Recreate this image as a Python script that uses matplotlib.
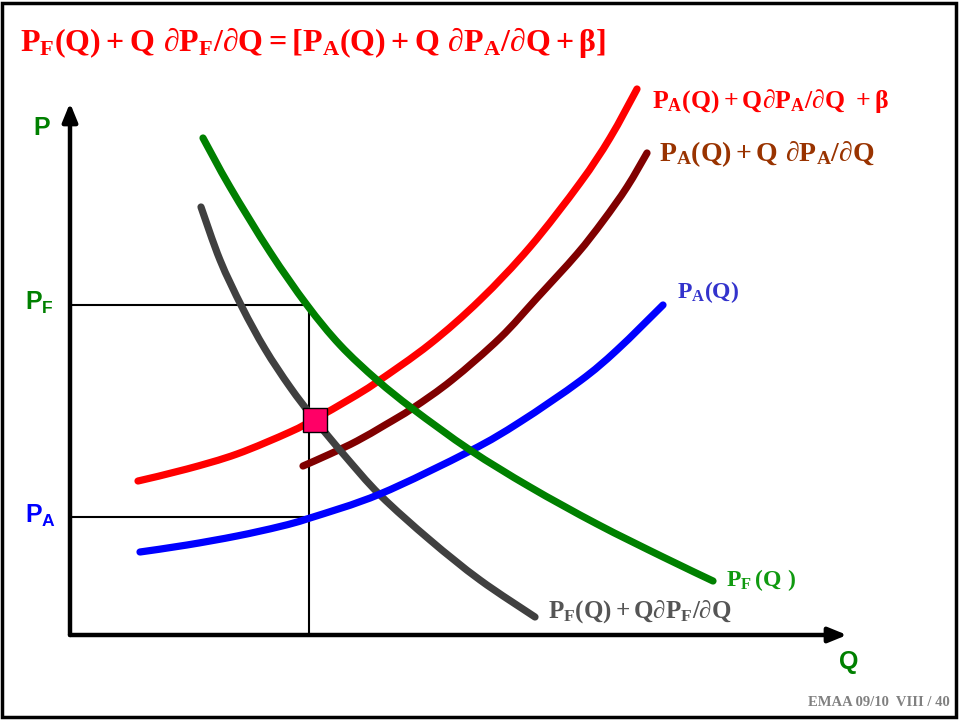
import matplotlib
matplotlib.use("Agg")
import matplotlib.pyplot as plt
import numpy as np
from matplotlib.patches import Rectangle, PathPatch
from matplotlib.path import Path

plt.rcParams['mathtext.fontset'] = 'custom'
plt.rcParams['mathtext.rm'] = 'Liberation Serif:bold'
plt.rcParams['mathtext.it'] = 'Liberation Serif:bold'
plt.rcParams['mathtext.bf'] = 'Liberation Serif:bold'
plt.rcParams['mathtext.sf'] = 'Liberation Sans:bold'

W, H = 959, 720

# curves (Q to the right of the origin, P above it)
red_q = [68, 117, 167, 220, 245, 280, 307, 360, 410, 460, 510, 540, 567]
red_p = [154, 166, 181, 203, 216, 236, 253, 291, 335, 388, 452, 497, 546]

brown_q = [233, 260, 287, 315, 343, 382, 430, 467, 507, 533, 557, 577]
brown_p = [169, 181, 194, 210, 227, 255, 297, 337, 381, 414, 448, 482]

green_q = [133, 160, 200, 237, 270, 307, 343, 400, 460, 527, 593, 643]
green_p = [497, 448, 383, 330, 290, 255, 226, 185, 148, 111, 78, 54]

grey_q = [131, 150, 172, 195, 220, 245, 275, 310, 360, 410, 465]
grey_p = [428, 375, 328, 286, 248, 215, 179, 140, 95, 55, 18]

blue_q = [70, 117, 167, 210, 240, 310, 400, 450, 510, 547, 593]
blue_p = [83, 90, 99, 108.5, 117, 141, 184, 213, 254, 285, 330]

q_star = 239
pf_star = 330
pa_star = 118
eq_point = (245, 215)
q_max, p_max = 777, 532


def smooth_path(qs, ps):
    """Catmull-Rom through the read points, drawn as cubic beziers."""
    pts = np.column_stack([qs, ps]).astype(float)
    n = len(pts)
    verts = [pts[0]]
    codes = [Path.MOVETO]
    for i in range(n - 1):
        p0 = pts[max(i - 1, 0)]
        p1 = pts[i]
        p2 = pts[i + 1]
        p3 = pts[min(i + 2, n - 1)]
        verts += [p1 + (p2 - p0) / 6, p2 - (p3 - p1) / 6, p2]
        codes += [Path.CURVE4] * 3
    return Path(verts, codes)


fig = plt.figure(figsize=(W / 100, H / 100), dpi=100)
ax = fig.add_axes([0, 0, 1, 1])
ax.set_xlim(-70, W - 70)
ax.set_ylim(635 - H, 635)
ax.axis('off')

# frame of the slide
fig.patches.append(Rectangle((1.5 / W, 3 / H), 954 / W, 714 / H, transform=fig.transFigure,
                             fill=False, ec='black', lw=2.5))

# axes with arrows
arrow = dict(arrowstyle='-|>,head_length=1.1,head_width=0.45', lw=3.2, color='black',
             shrinkA=0, shrinkB=0)
ax.annotate('', xy=(0, p_max), xytext=(0, 0), arrowprops=arrow)
ax.annotate('', xy=(q_max, 0), xytext=(0, 0), arrowprops=arrow)

# guide lines
ax.plot([0, q_star], [pf_star, pf_star], color='black', lw=1.5, zorder=1)
ax.plot([0, q_star], [pa_star, pa_star], color='black', lw=1.5, zorder=1)
ax.plot([q_star, q_star], [0, pf_star], color='black', lw=1.5, zorder=1)

curves = [
    (brown_q, brown_p, '#800000', 2),
    (grey_q, grey_p, '#404040', 3),
    (blue_q, blue_p, '#0000ff', 4),
    (red_q, red_p, '#ff0000', 5),
    (green_q, green_p, '#008000', 6),
]
for qs, ps, col, z in curves:
    ax.add_patch(PathPatch(smooth_path(qs, ps), fill=False, ec=col, lw=5.2,
                           capstyle='round', joinstyle='round', zorder=z))

ax.plot([eq_point[0]], [eq_point[1]], marker='s', ms=17, mfc='#ff0066', mec='black', mew=1,
        zorder=7)


def label(x, y, s, color, size, ha='left'):
    fig.text(x / W, 1 - y / H, s, color=color, fontsize=size, ha=ha, va='center')


label(20, 42, r'$\mathrm{P_F(Q) + Q\ \partial P_F/\partial Q = [P_A(Q) + Q\ \partial P_A/\partial Q + \beta]}$',
      '#ff0000', 23)
label(652, 101, r'$\mathrm{P_A(Q) + Q\partial P_A/\partial Q\ + \beta}$', '#ff0000', 18.5)
label(659, 154, r'$\mathrm{P_A(Q) + Q\ \partial P_A/\partial Q}$', '#993300', 20)
label(677, 292, r'$\mathrm{P_A(Q)}$', '#3333cc', 17)
label(726, 580, r'$\mathrm{P_F\,(Q\ )}$', '#109a10', 17)
label(548, 612, r'$\mathrm{P_F(Q) + Q\partial P_F/\partial Q}$', '#555555', 18)

label(33, 128, r'$\mathsf{P}$', '#008000', 18)
label(25, 303, r'$\mathsf{P_F}$', '#008000', 18)
label(25, 516, r'$\mathsf{P_A}$', '#0000ff', 18)
label(838, 662, r'$\mathsf{Q}$', '#008000', 18)

fig.text(950 / W, 1 - 703 / H, 'EMAA 09/10  VIII / 40', color='#808080', fontsize=10.5,
         family='Liberation Serif', weight='bold', ha='right', va='center')

fig.savefig('out.png', dpi=100)
